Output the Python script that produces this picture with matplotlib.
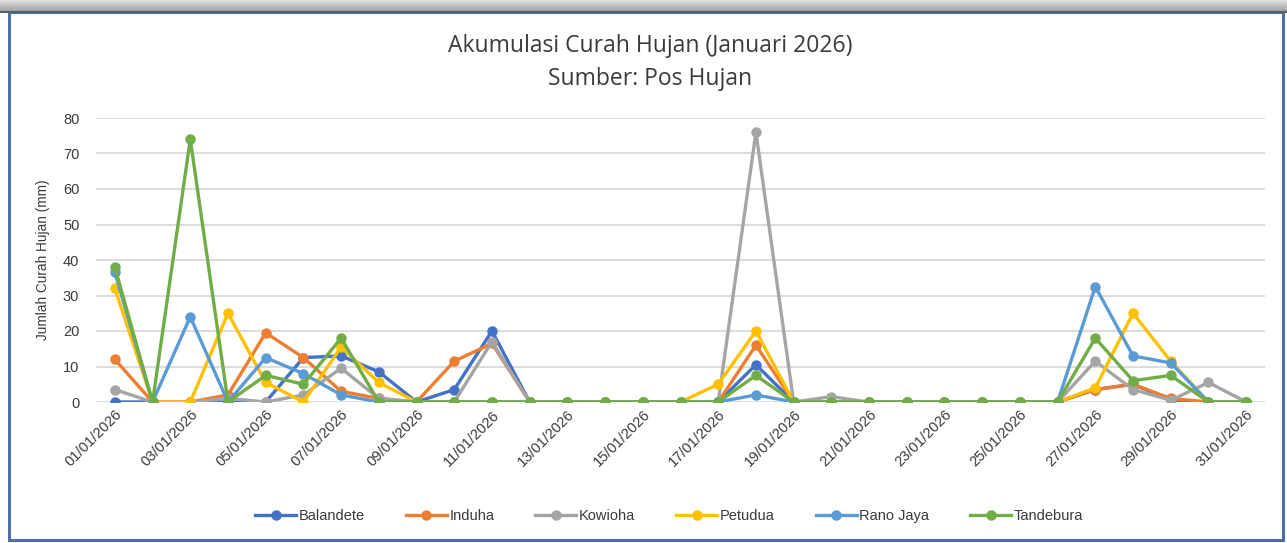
import numpy as np
import matplotlib
matplotlib.use("Agg")
import matplotlib.pyplot as plt
from matplotlib.patches import Rectangle

# rainfall per station, 1..31 January 2026 (mm)
days = list(range(1, 32))
tick_days = days[::2]
tick_labels = [f"{d:02d}/01/2026" for d in tick_days]

balandete = [0, 0, 0, 0, 0, 12.5, 13, 8.5, 0, 3.5, 20, 0, 0, 0, 0, 0, 0, 10.5, 0, 0,
             0, 0, 0, 0, 0, 0, 3.5, 5, 0.5, 0, 0]
induha = [12, 0, 0, 2, 19.5, 12.5, 3, 1, 0, 11.5, 16.5, 0, 0, 0, 0, 0, 0, 16, 0, 0,
          0, 0, 0, 0, 0, 0, 3.5, 5, 1, 0, 0]
kowioha = [3.5, 0, 0, 1, 0, 2, 9.5, 1, 0, 0, 17, 0, 0, 0, 0, 0, 0, 76, 0, 1.5,
           0, 0, 0, 0, 0, 0, 11.5, 3.5, 0.5, 5.5, 0]
petudua = [32, 0, 0, 25, 5.5, 0, 15.5, 5.5, 0, 0, 0, 0, 0, 0, 0, 0, 5, 20, 0, 0,
           0, 0, 0, 0, 0, 0, 4, 25, 11.5, 0, 0]
rano_jaya = [36.5, 0, 24, 0, 12.5, 8, 2, 0, 0, 0, 0, 0, 0, 0, 0, 0, 0, 2, 0, 0,
             0, 0, 0, 0, 0, 0, 32.5, 13, 11, 0, 0]
tandebura = [38, 0, 74, 0, 7.5, 5, 18, 0, 0, 0, 0, 0, 0, 0, 0, 0, 0, 7.5, 0, 0,
             0, 0, 0, 0, 0, 0, 18, 6, 7.5, 0, 0]

series = [("Balandete", balandete, "#4472C4"),
          ("Induha", induha, "#ED7D31"),
          ("Kowioha", kowioha, "#A5A5A5"),
          ("Petudua", petudua, "#FFC000"),
          ("Rano Jaya", rano_jaya, "#5B9BD5"),
          ("Tandebura", tandebura, "#70AD47")]

plt.rcParams['font.family'] = ['Liberation Sans', 'DejaVu Sans']
txt_col = "#3A3A3A"

W, H = 1287, 543
fig = plt.figure(figsize=(W / 100, H / 100), dpi=100)
fig.patch.set_facecolor("white")

# screenshot frame: grey toolbar strip on top, blue border around the chart
bar = fig.add_axes([0, 1 - 12 / H, 1, 12 / H])
grad = np.linspace(0.88, 0.62, 20).reshape(-1, 1)
bar.imshow(grad, aspect="auto", cmap="gray", vmin=0, vmax=1, extent=[0, 1, 0, 1])
bar.axis("off")
fig.patches.append(Rectangle((9 / W, 3 / H), (W - 13) / W, (H - 15) / H,
                             transform=fig.transFigure, fill=False,
                             edgecolor="#4E6EA8", lw=2.2))
fig.add_artist(plt.Line2D([0, 1], [1 - 12 / H, 1 - 12 / H], transform=fig.transFigure,
                          color="#55606E", lw=1.5))

ax = fig.add_axes([96 / W, 1 - 402 / H, (1265 - 96) / W, (402 - 118) / H])
for name, vals, col in series:
    ax.plot(days, vals, color=col, lw=2.4, marker="o", markersize=6.5, label=name,
            solid_joinstyle="round")

ax.set_xlim(0.5, 31.5)
ax.set_ylim(0, 80)
ax.set_yticks(range(0, 81, 10))
ax.set_xticks(tick_days)
ax.set_xticklabels(tick_labels, rotation=45, ha="right", va="top",
                   rotation_mode="anchor")
ax.tick_params(length=0, labelsize=10.5, colors=txt_col)
ax.tick_params(axis="y", pad=12)
ax.tick_params(axis="x", pad=4)
ax.grid(axis="y", color="#D9D9D9", lw=1.3)
ax.set_axisbelow(True)
for s in ax.spines.values():
    s.set_visible(False)

ax.set_ylabel("Jumlah Curah Hujan (mm)", fontsize=9.8, color=txt_col, labelpad=9)

fig.text(0.505, 1 - 46 / H, "Akumulasi Curah Hujan (Januari 2026)", ha="center",
         va="center", fontsize=16.5, color=txt_col, family=["Open Sans", "DejaVu Sans"])
fig.text(0.505, 1 - 79 / H, "Sumber: Pos Hujan", ha="center", va="center",
         fontsize=16.5, color=txt_col, family=["Open Sans", "DejaVu Sans"])

fig.legend(loc="center", bbox_to_anchor=(0.52, 1 - 516 / H), ncol=6, frameon=False,
           fontsize=10.5, handlelength=2.8, handletextpad=0.2, columnspacing=2.8,
           labelcolor=txt_col)

fig.savefig("out.png", dpi=100)
